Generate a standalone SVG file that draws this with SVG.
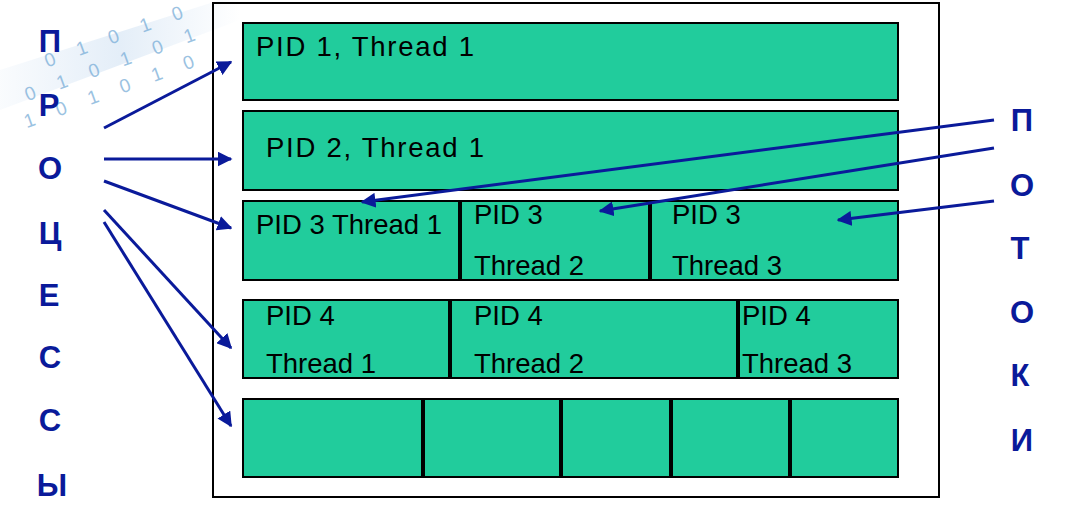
<svg xmlns="http://www.w3.org/2000/svg" width="1070" height="520" viewBox="0 0 1070 520">
<style>
.r{fill:#21cc9c;stroke:#000;stroke-width:2}
.d{stroke:#000;stroke-width:4}
.t{font-family:"Liberation Sans",Arial,sans-serif;font-size:27.5px;fill:#000}
.L{font-family:"Liberation Sans",Arial,sans-serif;font-size:31px;font-weight:bold;fill:#0a1a9a;text-anchor:middle}
.b{font-family:"Liberation Sans",Arial,sans-serif;font-size:19px;fill:#7aaed8;letter-spacing:9px;opacity:0.75}
.a{stroke:#0a1a9a;stroke-width:3;fill:none;marker-end:url(#m)}
</style>
<defs>
<marker id="m" viewBox="0 0 10 10" refX="9" refY="5" markerWidth="5" markerHeight="5" orient="auto" markerUnits="strokeWidth"><path d="M0,0L10,5L0,10z" fill="#0a1a9a"/></marker>
<linearGradient id="g" x1="0" y1="0" x2="1" y2="0"><stop offset="0" stop-color="#e4eef8" stop-opacity="0.2"/><stop offset="0.5" stop-color="#e4eef8"/><stop offset="1" stop-color="#e4eef8" stop-opacity="0"/></linearGradient>
</defs>
<g id="bg">
<path d="M0,70 L220,0 L240,0 L240,20 L0,110z" fill="url(#g)"/>
<g transform="rotate(-20 110 50)">
<text class="b" x="45" y="45">0 1 0 1 0</text>
<text class="b" x="15" y="70">0 1 0 1 0 1</text>
<text class="b" x="5" y="95">1 0 1 0 1 0</text>
</g>
</g>
<rect id="frame" x="213" y="3" width="726" height="494" fill="none" stroke="#000" stroke-width="2"/>
<g id="row1"><rect class="r" x="243" y="23" width="655" height="77"/><text class="t" x="256" y="56" textLength="218">PID 1, Thread 1</text></g>
<g id="row2"><rect class="r" x="243" y="111" width="655" height="79"/><text class="t" x="266" y="157" textLength="218">PID 2, Thread 1</text></g>
<g id="row3"><rect class="r" x="243" y="201" width="655" height="79"/>
<line class="d" x1="460" y1="201" x2="460" y2="280"/><line class="d" x1="650" y1="201" x2="650" y2="280"/>
<text class="t" x="256" y="234">PID 3 Thread 1</text>
<text class="t" x="474" y="224">PID 3</text><text class="t" x="474" y="275">Thread 2</text>
<text class="t" x="672" y="224">PID 3</text><text class="t" x="672" y="275">Thread 3</text></g>
<g id="row4"><rect class="r" x="243" y="300" width="655" height="78"/>
<line class="d" x1="450" y1="300" x2="450" y2="378"/><line class="d" x1="738" y1="300" x2="738" y2="378"/>
<text class="t" x="266" y="325">PID 4</text><text class="t" x="266" y="373">Thread 1</text>
<text class="t" x="474" y="325">PID 4</text><text class="t" x="474" y="373">Thread 2</text>
<text class="t" x="742" y="325">PID 4</text><text class="t" x="742" y="373">Thread 3</text></g>
<g id="row5"><rect class="r" x="243" y="399" width="655" height="78"/>
<line class="d" x1="423" y1="399" x2="423" y2="477"/><line class="d" x1="561" y1="399" x2="561" y2="477"/><line class="d" x1="671" y1="399" x2="671" y2="477"/><line class="d" x1="790" y1="399" x2="790" y2="477"/></g>
<g id="left-label">
<text class="L" x="50" y="52">П</text><text class="L" x="49" y="116">Р</text><text class="L" x="50" y="179">О</text><text class="L" x="50" y="244">Ц</text><text class="L" x="49" y="306">Е</text><text class="L" x="50" y="368">С</text><text class="L" x="50" y="431">С</text><text class="L" x="52" y="496">Ы</text>
</g>
<g id="right-label">
<text class="L" x="1022" y="131">П</text><text class="L" x="1022" y="196">О</text><text class="L" x="1020" y="259">Т</text><text class="L" x="1022" y="323">О</text><text class="L" x="1020" y="386">К</text><text class="L" x="1022" y="451">И</text>
</g>
<g id="connectors">
<line class="a" x1="104" y1="128" x2="231" y2="62"/>
<line class="a" x1="104" y1="159" x2="231" y2="159"/>
<line class="a" x1="104" y1="181" x2="231" y2="228"/>
<line class="a" x1="104" y1="210" x2="231" y2="348"/>
<line class="a" x1="104" y1="222" x2="231" y2="426"/>
<line class="a" x1="994" y1="120" x2="362" y2="202"/>
<line class="a" x1="994" y1="148" x2="600" y2="211"/>
<line class="a" x1="994" y1="201" x2="838" y2="220"/>
</g>
</svg>
